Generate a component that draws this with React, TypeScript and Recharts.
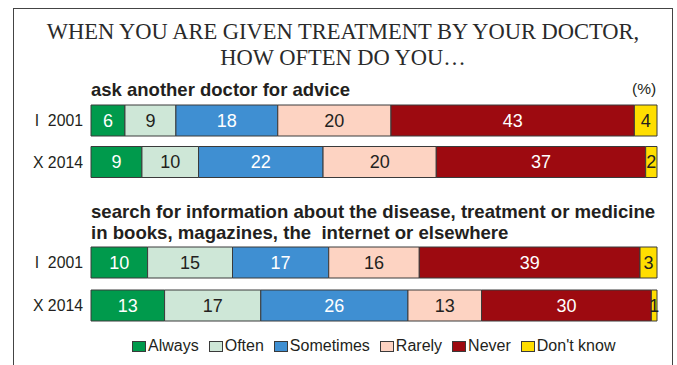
import { Bar, BarChart, LabelList, XAxis, YAxis } from 'recharts';

const SERIES = ['Always', 'Often', 'Sometimes', 'Rarely', 'Never', "Don't know"];
const PERIODS = ['I\u00a0 2001', 'X 2014'];

// percentages per row, in SERIES order
const ASK_2001 = [6, 9, 18, 20, 43, 4];
const ASK_2014 = [9, 10, 22, 20, 37, 2];
const SEARCH_2001 = [10, 15, 17, 16, 39, 3];
const SEARCH_2014 = [13, 17, 26, 13, 30, 1];

const FILLS = ['#009a4c', '#cee7d7', '#3f8fd2', '#fdd3c2', '#9d0a10', '#ffde00'];
const LABEL_FILLS = ['#ffffff', '#231f20', '#ffffff', '#231f20', '#ffffff', '#231f20'];

const FONT = '"Liberation Sans", Arial, sans-serif';
const INK = '#231f20';

function toRows(rows: number[][]) {
  return PERIODS.map((period, i) => {
    const row: Record<string, string | number> = { period };
    SERIES.forEach((s, j) => {
      row[s] = rows[i][j];
    });
    return row;
  });
}

const askData = toRows([ASK_2001, ASK_2014]);
const searchData = toRows([SEARCH_2001, SEARCH_2014]);

function StackedRows({ data, height }: { data: Record<string, string | number>[]; height: number }) {
  return (
    <BarChart
      width={677}
      height={height}
      data={data}
      layout="vertical"
      margin={{ top: 0, right: 20, bottom: 0, left: 0 }}
      barSize={31}
    >
      <XAxis type="number" domain={[0, 100]} hide />
      <YAxis
        type="category"
        dataKey="period"
        width={91}
        axisLine={false}
        tickLine={false}
        tick={{ fontSize: 15.8, fill: INK, fontFamily: FONT }}
      />
      {SERIES.map((s, i) => (
        <Bar
          key={s}
          dataKey={s}
          stackId="a"
          fill={FILLS[i]}
          stroke="#3a3a3a"
          strokeWidth={1}
          isAnimationActive={false}
        >
          <LabelList
            dataKey={s}
            position="center"
            fill={LABEL_FILLS[i]}
            style={{ fontSize: 18, fontFamily: FONT }}
          />
        </Bar>
      ))}
    </BarChart>
  );
}

export default function App() {
  return (
    <div
      style={{
        position: 'absolute',
        left: 0,
        top: 0,
        width: 677,
        height: 365,
        background: '#fff',
        overflow: 'hidden',
        fontFamily: FONT,
        color: INK,
      }}
    >
      <div
        style={{
          position: 'absolute',
          left: 13,
          top: 8,
          width: 658,
          height: 370,
          border: '1px solid #444',
        }}
      />
      <div
        style={{
          position: 'absolute',
          left: 13,
          top: 19,
          width: 660,
          textAlign: 'center',
          fontFamily: '"Liberation Serif", "Times New Roman", serif',
          fontSize: 22.5,
          lineHeight: '26px',
          color: '#2a2a2a',
        }}
      >
        WHEN YOU ARE GIVEN TREATMENT BY YOUR DOCTOR,
        <br />
        HOW OFTEN DO YOU…
      </div>

      <div style={{ position: 'absolute', left: 91, top: 79, fontSize: 18.5, fontWeight: 700, lineHeight: '21px' }}>
        ask another doctor for advice
      </div>
      <div style={{ position: 'absolute', left: 632, top: 80, fontSize: 15.5, lineHeight: '18px' }}>(%)</div>

      <div style={{ position: 'absolute', left: 0, top: 100 }}>
        <StackedRows data={askData} height={83} />
      </div>

      <div
        style={{ position: 'absolute', left: 91, top: 201, fontSize: 18.6, fontWeight: 700, lineHeight: '21px', whiteSpace: 'pre' }}
      >
        {'search for information about the disease, treatment or medicine\nin books, magazines, the  internet or elsewhere'}
      </div>

      <div style={{ position: 'absolute', left: 0, top: 241 }}>
        <StackedRows data={searchData} height={86} />
      </div>

      <div
        style={{
          position: 'absolute',
          left: 132,
          top: 337,
          display: 'flex',
          alignItems: 'center',
          fontSize: 16,
          lineHeight: '18px',
          whiteSpace: 'nowrap',
        }}
      >
        {SERIES.map((s, i) => (
          <span key={s} style={{ display: 'flex', alignItems: 'center', marginRight: 10 }}>
            <span
              style={{
                display: 'inline-block',
                width: 12,
                height: 9,
                background: FILLS[i],
                border: '1px solid #3a3a3a',
                marginRight: 2,
              }}
            />
            {s}
          </span>
        ))}
      </div>
    </div>
  );
}
